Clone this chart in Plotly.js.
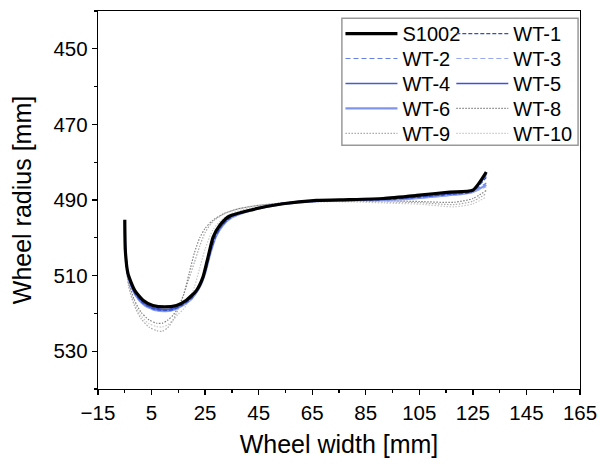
<!DOCTYPE html>
<html><head><meta charset="utf-8">
<script src="https://cdn.plot.ly/plotly-3.0.1.min.js"></script>
</head><body style="margin:0;background:#fff">
<div id="chart" style="width:600px;height:464px"></div>
<script>
// ---- data ----
var xS1002 = [-5, -4.8, -3.8, -1.3, 1.8, 5.5, 9.9, 14.3, 18, 21.8, 24.2, 26.1, 28, 30.5, 34, 41.7, 54, 66.6, 79, 91.5, 104, 116.4, 125, 130];
var yS1002 = [495.2, 503.3, 509.5, 513.9, 516.5, 517.9, 518.3, 517.9, 516.5, 513.9, 510.4, 505.1, 499.8, 496.7, 494.3, 492.7, 491.0, 490.1, 489.9, 489.6, 488.8, 487.9, 487.4, 482.6];

var xBlue = [-5, -4.7, -3.7, -1.2, 2, 6, 10, 13, 16.5, 20, 23, 25, 27, 29, 31.5, 35, 42, 54, 67, 79, 92, 104, 116, 124.5, 130];
var yWT1 = [495.6, 503.8, 510.2, 514.7, 517.4, 518.8, 519.2, 519.0, 517.8, 516.0, 512.8, 509.2, 503.8, 499.5, 496.6, 494.4, 492.7, 491.0, 490.2, 490.0, 489.9, 489.3, 488.5, 487.8, 484.0];
var yWT2 = [495.8, 504.0, 510.4, 514.9, 517.6, 519.0, 519.3, 519.0, 517.7, 515.7, 512.4, 508.8, 503.4, 499.2, 496.4, 494.3, 492.6, 491.0, 490.2, 490.0, 489.8, 489.2, 488.4, 487.7, 485.5];
var yWT3 = [495.9, 504.2, 510.5, 515.0, 517.8, 519.2, 519.5, 519.2, 518.0, 516.2, 513.0, 509.4, 503.9, 499.6, 496.7, 494.5, 492.7, 491.1, 490.3, 490.1, 490.0, 489.5, 488.8, 488.0, 486.5];
var yWT4 = [495.5, 503.6, 510.0, 514.6, 517.3, 518.7, 519.1, 518.8, 517.6, 515.8, 512.6, 509.0, 503.6, 499.4, 496.5, 494.4, 492.7, 491.0, 490.2, 490.0, 489.8, 489.3, 488.4, 487.8, 483.5];
var yWT5 = [495.4, 503.5, 509.9, 514.5, 517.2, 518.6, 519.0, 518.7, 517.5, 515.6, 512.5, 508.9, 503.5, 499.3, 496.4, 494.3, 492.6, 490.9, 490.1, 489.9, 489.7, 489.1, 488.2, 487.6, 483.0];
var yWT6 = [495.7, 503.9, 510.3, 514.9, 517.6, 519.0, 519.4, 519.1, 517.9, 516.1, 513.0, 509.4, 504.0, 499.7, 496.8, 494.6, 492.8, 491.1, 490.3, 490.1, 490.0, 489.5, 488.7, 488.0, 486.0];

var xGrey = [-5, -4.6, -3.6, -1.5, 1, 4, 7, 9, 11, 13, 15, 17, 19, 21, 23, 25, 28, 32, 37, 44, 55, 67, 80, 92, 105, 118, 125, 130];
var yWT8  = [496.0, 505.0, 511.5, 516.3, 519.6, 521.7, 522.6, 522.6, 521.8, 520.5, 518.3, 515.0, 509.5, 504.0, 500.0, 497.5, 495.3, 493.6, 492.4, 491.5, 490.7, 490.2, 490.1, 490.2, 490.4, 490.6, 489.6, 487.5];
var yWT9  = [496.5, 506.0, 512.8, 517.8, 521.3, 523.6, 524.6, 524.7, 523.8, 521.8, 518.8, 515.0, 510.8, 506.5, 502.2, 498.6, 495.6, 493.7, 492.4, 491.5, 490.8, 490.4, 490.3, 490.5, 490.7, 491.2, 490.3, 488.3];
var yWT10 = [496.3, 505.5, 512.2, 517.1, 520.5, 522.7, 523.5, 523.6, 523.0, 521.8, 520.2, 518.8, 516.5, 513.0, 508.0, 503.0, 497.8, 494.8, 493.0, 491.8, 490.9, 490.5, 490.5, 490.8, 491.1, 491.8, 491.0, 489.2];

var xTickVals = [-15, 5, 25, 45, 65, 85, 105, 125, 145, 165];
var yTickVals = [450, 470, 490, 510, 530];

// ---- traces ----
var FONT = 'Liberation Sans, Arial, sans-serif';
function tr(name, x, y, color, width, dash, legend, sm) {
  return {type: 'scatter', mode: 'lines', name: name, x: x, y: y,
    line: {color: color, width: width, dash: dash, shape: 'spline', smoothing: sm || 0.7},
    legend: legend};
}
var data = [
  tr('WT-10', xGrey, yWT10, '#c8c8c8', 1.2, '1.5px,1.5px', 'legend10'),
  tr('WT-9',  xGrey, yWT9,  '#a8a8a8', 1.2, '1.5px,1.5px', 'legend9'),
  tr('WT-8',  xGrey, yWT8,  '#808080', 1.2, '1.5px,1.5px', 'legend8'),
  tr('WT-6',  xBlue, yWT6,  '#8094ee', 2.2, 'solid', 'legend7'),
  tr('WT-5',  xBlue, yWT5,  '#3f4fe0', 1.7, 'solid', 'legend6'),
  tr('WT-4',  xBlue, yWT4,  '#4a5ccc', 1.4, 'solid', 'legend5'),
  tr('WT-3',  xBlue, yWT3,  '#99a8f0', 1.2, '5px,3px', 'legend4'),
  tr('WT-2',  xBlue, yWT2,  '#6680e4', 1.2, '5px,3px', 'legend3'),
  tr('WT-1',  xBlue, yWT1,  '#3050c8', 1.3, '4px,2px', 'legend2'),
  tr('S1002', xS1002, yS1002, '#000000', 3.2, 'solid', 'legend', 0.55)
];

// legend slots: [col x (paper), row y (paper)]
var colX = [0.503, 0.733];
var rowY = [0.9403, 0.8743, 0.8082, 0.7422, 0.6762];
function leg(col, row) {
  return {x: colX[col], y: rowY[row], xanchor: 'left', yanchor: 'middle', bgcolor: 'rgba(0,0,0,0)',
    borderwidth: 0, font: {family: FONT, size: 20, color: '#000'}, itemwidth: 52};
}

var layout = {
  width: 600, height: 464,
  margin: {l: 98, r: 20, t: 11, b: 75},
  paper_bgcolor: '#fff', plot_bgcolor: '#fff',
  font: {family: FONT, size: 20, color: '#000'},
  showlegend: true,
  legend: leg(0, 0), legend2: leg(1, 0),
  legend3: leg(0, 1), legend4: leg(1, 1),
  legend5: leg(0, 2), legend6: leg(1, 2),
  legend7: leg(0, 3), legend8: leg(1, 3),
  legend9: leg(0, 4), legend10: leg(1, 4),
  xaxis: {
    range: [-15, 165], tickvals: xTickVals, ticks: 'outside', ticklen: 5, tickwidth: 1.3, tickcolor: '#000',
    showline: true, linecolor: '#000', linewidth: 1.3, mirror: true, showgrid: false, zeroline: false,
    tickfont: {family: FONT, size: 20.5},
    minor: {tickvals: [-5, 15, 35, 55, 75, 95, 115, 135, 155], ticks: 'outside', ticklen: 3, tickwidth: 1.3, tickcolor: '#000', showgrid: false},
    title: {text: 'Wheel width [mm]', font: {family: FONT, size: 25}, standoff: 12}
  },
  yaxis: {
    range: [540, 440], tickvals: yTickVals, ticks: 'outside', ticklen: 5, tickwidth: 1.3, tickcolor: '#000',
    showline: true, linecolor: '#000', linewidth: 1.3, mirror: true, showgrid: false, zeroline: false,
    tickfont: {family: FONT, size: 20.5},
    minor: {tickvals: [440, 460, 480, 500, 520, 540], ticks: 'outside', ticklen: 3, tickwidth: 1.3, tickcolor: '#000', showgrid: false},
    title: {text: 'Wheel radius [mm]', font: {family: FONT, size: 25}, standoff: 14}
  },
  shapes: [{type: 'rect', xref: 'paper', yref: 'paper', x0: 0.506, x1: 0.996, y0: 0.645, y1: 0.981,
    line: {color: '#999', width: 1.5}, fillcolor: 'rgba(0,0,0,0)'}]
};

Plotly.newPlot('chart', data, layout, {staticPlot: true, displayModeBar: false});
</script>
</body></html>
